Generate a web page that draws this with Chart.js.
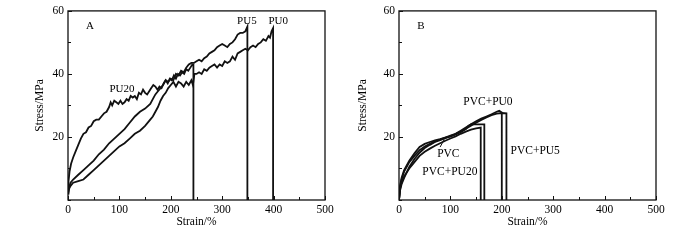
<!DOCTYPE html>
<html>
<head>
<meta charset="utf-8">
<script src="https://cdn.jsdelivr.net/npm/chart.js@4"></script>
<style>
  html, body { margin: 0; padding: 0; background: #fff; }
  #wrap { position: relative; width: 700px; height: 240px; }
  #wrap canvas { position: absolute; top: 0; }
</style>
</head>
<body>
<div id="wrap">
  <canvas id="chartA" width="350" height="240" style="left:0"></canvas>
  <canvas id="chartB" width="350" height="240" style="left:350px"></canvas>
</div>
<script>
// Panel A: PU films
const pu20Strain = [0,1,3,6,10,15,20,25,30,35,40,45,50,55,60,65,70,75,80,83,86,90,94,98,102,106,110,114,118,122,126,130,134,138,142,146,150,154,158,162,166,170,174,178,182,186,190,194,198,202,206,210,214,218,222,226,230,234,238,242,244,244];
const pu20Stress = [2,6,9,11.5,13.5,15.5,17.5,19.5,21,21.5,23,23.5,25,25.5,25.5,26.5,27.5,28,29.5,31,30,31.5,31,30.5,31.5,30.5,31,32,31.5,33,32.5,33,32,34,33.5,35,34,33.5,34.5,35.5,36.5,36,35,36,35.5,37,38,37,38.5,38,39.5,38.5,40,39.5,40.5,40,41.5,41,42,43,43,0];

const pu5Strain = [0,2,5,10,20,30,40,50,60,70,80,90,100,110,120,130,140,150,160,165,170,175,180,185,190,195,200,205,210,215,220,225,230,235,240,245,250,255,260,265,270,275,280,285,290,295,300,305,310,315,320,325,330,335,340,345,349,349];
const pu5Stress = [2,4,5.5,6.5,8,9.5,11,12.5,14.5,16,18,19.5,21,22.5,24.5,26.5,28,29,30.5,32,33.5,34.5,35.5,36.5,38,37.5,38.5,38,40,39.5,41,40.5,42,43,43.5,43.5,44,44.5,44,45,45.5,46.5,47,47.5,48.5,49,49.5,49,48.5,49.5,50,51,52.5,53,53,53.5,55,0];

const pu0Strain = [0,2,5,10,20,30,40,50,60,70,80,90,100,110,120,130,140,150,160,165,170,175,180,185,190,195,200,205,210,215,220,225,230,235,240,243,246,250,255,260,265,270,275,280,285,290,295,300,305,310,315,320,325,330,335,340,345,350,355,360,365,370,375,380,385,390,393,396,399,399];
const pu0Stress = [2,3.5,4.5,5.5,6,6.5,8,9.5,11,12.5,14,15.5,17,18,19.5,21,22,23.5,25.5,26.5,28,29.5,31.5,33,34,35.5,36.5,37.5,36,37.5,37,36,37.5,36.5,38,36.5,40,40,40.5,40,41.5,41,42,42.5,43,42,43,42.5,44,43.5,44,45.5,44.5,46.5,47,47.5,48,47.5,48.5,49,48.5,49.5,50,51,50.5,52,51.5,53.5,54.5,0];

// Panel B: PVC blends
const pvcStrain = [0,2,5,10,20,30,40,50,60,70,80,90,100,110,120,130,140,150,159,159];
const pvcStress = [0,3.5,5.5,7.5,10,12,14,15.3,16.3,17.2,18,18.8,19.5,20.2,21,21.7,22.3,22.7,23,0];

const pvcPu20Strain = [0,2,5,10,20,30,40,50,60,70,80,90,100,110,120,130,135,140,150,160,166,166];
const pvcPu20Stress = [0,4.5,7,9.5,12.5,14.8,16.8,17.8,18.4,18.9,19.3,19.8,20.2,20.8,21.5,22.5,23.5,24,24,24,24,0];

const pvcPu0Strain = [0,2,5,10,20,30,40,50,60,70,80,90,100,110,120,130,140,150,160,170,180,190,195,200,200];
const pvcPu0Stress = [0,4,6.5,9,12,14,15.8,17,17.8,18.6,19.2,19.8,20.4,21,22,23,24,25,25.8,26.5,27.2,28,28.3,27.8,0];

const pvcPu5Strain = [0,2,5,10,20,30,40,50,60,70,80,90,100,110,120,130,140,150,160,170,180,190,200,209,209];
const pvcPu5Stress = [0,3,5,7,10.5,13,15,16.5,17.5,18.4,19,19.6,20.2,20.9,21.7,22.6,23.6,24.5,25.4,26.2,26.9,27.4,27.6,27.5,0];

// tick labels
const xTickLabels = [0, 100, 200, 300, 400, 500];
const yTickLabels = [20, 40, 60];

const labelsA = [
  { text: 'PU20', x: 105, y: 35.2 },
  { text: 'PU5', x: 348, y: 56.9 },
  { text: 'PU0', x: 409, y: 56.9 }
];
const labelsB = [
  { text: 'PVC+PU0', x: 173, y: 31.2 },
  { text: 'PVC', x: 96, y: 14.7 },
  { text: 'PVC+PU20', x: 99, y: 8.8 },
  { text: 'PVC+PU5', x: 265, y: 15.7 }
];

const FONT = '"Liberation Serif", "Times New Roman", serif';

function toPoints(xs, ys) {
  return xs.map((x, i) => ({ x: x, y: ys[i] }));
}

function lineSet(xs, ys) {
  return {
    data: toPoints(xs, ys),
    borderColor: '#111',
    borderWidth: 1.8,
    pointRadius: 0,
    tension: 0,
    fill: false
  };
}

// frame, inward ticks, panel letter and curve labels
const decorPlugin = {
  id: 'decor',
  afterDraw(chart, args, opts) {
    const ctx = chart.ctx;
    const area = chart.chartArea;
    const xs = chart.scales.x;
    const ys = chart.scales.y;
    ctx.save();
    ctx.strokeStyle = '#111';
    ctx.lineWidth = 1.3;
    ctx.strokeRect(area.left, area.top, area.right - area.left, area.bottom - area.top);

    ctx.lineWidth = 1;
    xs.ticks.forEach(t => {
      const px = Math.round(xs.getPixelForValue(t.value)) + 0.5;
      const len = xTickLabels.includes(t.value) ? 4 : 3;
      ctx.beginPath();
      ctx.moveTo(px, area.bottom);
      ctx.lineTo(px, area.bottom - len);
      ctx.stroke();
    });
    ys.ticks.forEach(t => {
      const py = Math.round(ys.getPixelForValue(t.value)) + 0.5;
      const len = yTickLabels.includes(t.value) ? 4 : 3;
      ctx.beginPath();
      ctx.moveTo(area.left, py);
      ctx.lineTo(area.left + len, py);
      ctx.stroke();
    });

    ctx.fillStyle = '#000';
    ctx.textAlign = 'center';
    ctx.textBaseline = 'middle';
    ctx.font = '11px ' + FONT;
    ctx.fillText(opts.letter, area.left + 22, area.top + 15);

    ctx.font = opts.labelSize + 'px ' + FONT;
    opts.labels.forEach(l => {
      ctx.fillText(l.text, xs.getPixelForValue(l.x), ys.getPixelForValue(l.y));
    });

    if (opts.pointer) {
      const p = opts.pointer;
      ctx.lineWidth = 1;
      ctx.beginPath();
      ctx.moveTo(xs.getPixelForValue(p[0]), ys.getPixelForValue(p[1]));
      ctx.lineTo(xs.getPixelForValue(p[2]), ys.getPixelForValue(p[3]));
      ctx.stroke();
    }
    ctx.restore();
  }
};

function makeChart(id, datasets, yAxisWidth, rightPad, yTitlePad, decor) {
  return new Chart(document.getElementById(id), {
    type: 'line',
    data: { datasets: datasets },
    plugins: [decorPlugin],
    options: {
      responsive: false,
      devicePixelRatio: 1,
      animation: false,
      layout: { padding: { top: 9, right: rightPad, left: 0, bottom: 0 } },
      plugins: {
        legend: { display: false },
        tooltip: { enabled: false },
        decor: decor
      },
      scales: {
        x: {
          type: 'linear',
          min: 0,
          max: 500,
          grid: { display: false, drawTicks: false },
          border: { display: false },
          afterFit: s => { s.height = 40; },
          ticks: {
            stepSize: 50,
            autoSkip: false,
            maxRotation: 0,
            padding: 3,
            color: '#000',
            font: { family: FONT, size: 11.5 },
            callback: v => xTickLabels.includes(v) ? String(v) : ''
          },
          title: {
            display: true,
            text: 'Strain/%',
            color: '#000',
            font: { family: FONT, size: 11.5 },
            padding: { top: 0, bottom: 11 }
          }
        },
        y: {
          type: 'linear',
          min: 0,
          max: 60,
          grid: { display: false, drawTicks: false },
          border: { display: false },
          afterFit: s => { s.width = yAxisWidth; },
          ticks: {
            stepSize: 10,
            autoSkip: false,
            padding: 4,
            color: '#000',
            font: { family: FONT, size: 11.5 },
            callback: v => yTickLabels.includes(v) ? String(v) : ''
          },
          title: {
            display: true,
            text: 'Stress/MPa',
            color: '#000',
            font: { family: FONT, size: 11.5 },
            padding: { top: yTitlePad, bottom: 0 }
          }
        }
      }
    }
  });
}

makeChart('chartA', [
  lineSet(pu20Strain, pu20Stress),
  lineSet(pu5Strain, pu5Stress),
  lineSet(pu0Strain, pu0Stress)
], 68, 25, 33, { letter: 'A', labels: labelsA, labelSize: 11 });

makeChart('chartB', [
  lineSet(pvcStrain, pvcStress),
  lineSet(pvcPu20Strain, pvcPu20Stress),
  lineSet(pvcPu0Strain, pvcPu0Stress),
  lineSet(pvcPu5Strain, pvcPu5Stress)
], 49, 44, 6, { letter: 'B', labels: labelsB, labelSize: 11.5, pointer: [80, 16.8, 88, 19.2] });
</script>
</body>
</html>
